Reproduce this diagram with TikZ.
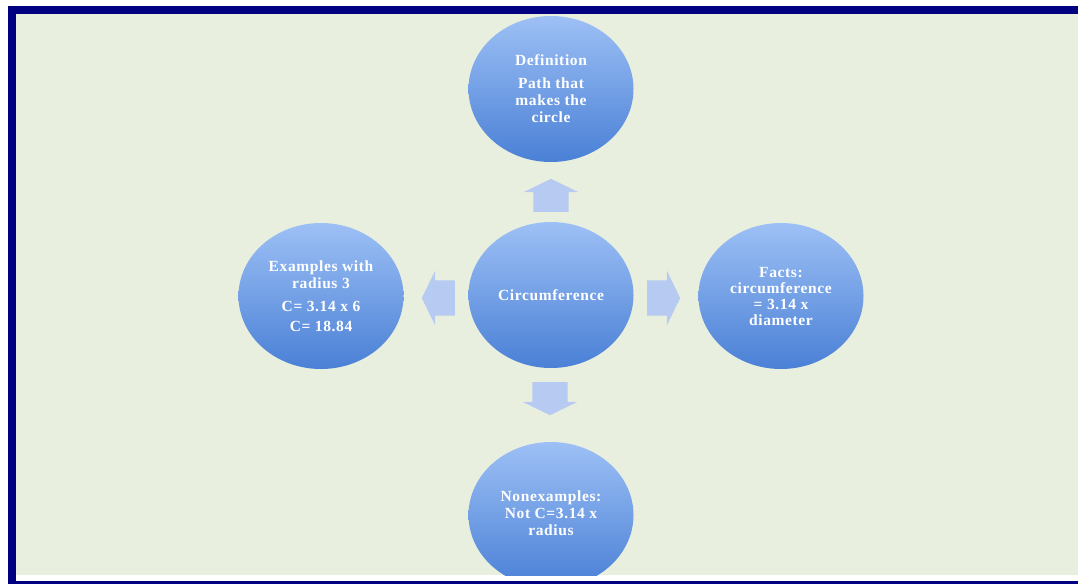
\documentclass[tikz,border=0pt]{standalone}
\usepackage{fontspec}
\setmainfont{Liberation Serif}[LetterSpace=4]
\usepackage{tikz}
\usetikzlibrary{positioning,shapes.geometric,shapes.arrows}

\definecolor{framenavy}{HTML}{000080}
\definecolor{pagegreen}{HTML}{E9EFDF}
\definecolor{bubbletop}{HTML}{9DC0F5}
\definecolor{bubblebottom}{HTML}{4A80D6}
\definecolor{arrowblue}{HTML}{B7CAF1}

\tikzset{
  bubble/.style={ellipse, minimum width=165pt, minimum height=146pt, inner sep=0pt,
    top color=bubbletop, bottom color=bubblebottom, text=white, align=center,
    font=\bfseries\fontsize{15.5}{17}\selectfont},
  blockarrow/.style={single arrow, inner xsep=0pt, inner ysep=17.5pt,
    single arrow head extend=9.5pt, single arrow tip angle=128,
    minimum height=33pt, fill=arrowblue, draw=none, rotate=#1}
}

\begin{document}
\begin{tikzpicture}[x=1pt, y=-1pt]
\useasboundingbox (0,0) rectangle (1078,584);
\fill[white] (0,0) rectangle (1078,584);
\fill[framenavy] (8,6) rectangle (1078,584);
\fill[white] (16,575) rectangle (1078,581);
\fill[pagegreen] (16,14) rectangle (1078,575);

\begin{scope}
\clip (16,14) rectangle (1078,575);
\node[bubble] (centre) at (551,295) {Circumference};
\node[bubble] (defn) at (551,89) {Definition\\[6pt] Path that\\ makes the\\ circle};
\node[bubble] (examples) at (321,296) {Examples with\\ radius 3\\[6pt] C= 3.14 x 6\\[3pt] C= 18.84};
\node[bubble, font=\bfseries\fontsize{15.5}{16}\selectfont] (facts) at (781,296) {Facts:\\ circumference\\ = 3.14 x\\ diameter};
\node[bubble] (nonex) at (551,515) {\raisebox{10pt}{\begin{tabular}{@{}c@{}}Nonexamples:\\ Not C=3.14 x\\ radius\end{tabular}}};
\end{scope}

\node[blockarrow=90, anchor=tail] (updart) at (551,212) {};
\node[blockarrow=180, anchor=tail] (leftdart) at (455,298) {};
\node[blockarrow=0, anchor=tail] (rightdart) at (647,298) {};
\node[blockarrow=270, anchor=tail] (downdart) at (550,382) {};
\end{tikzpicture}
\end{document}
